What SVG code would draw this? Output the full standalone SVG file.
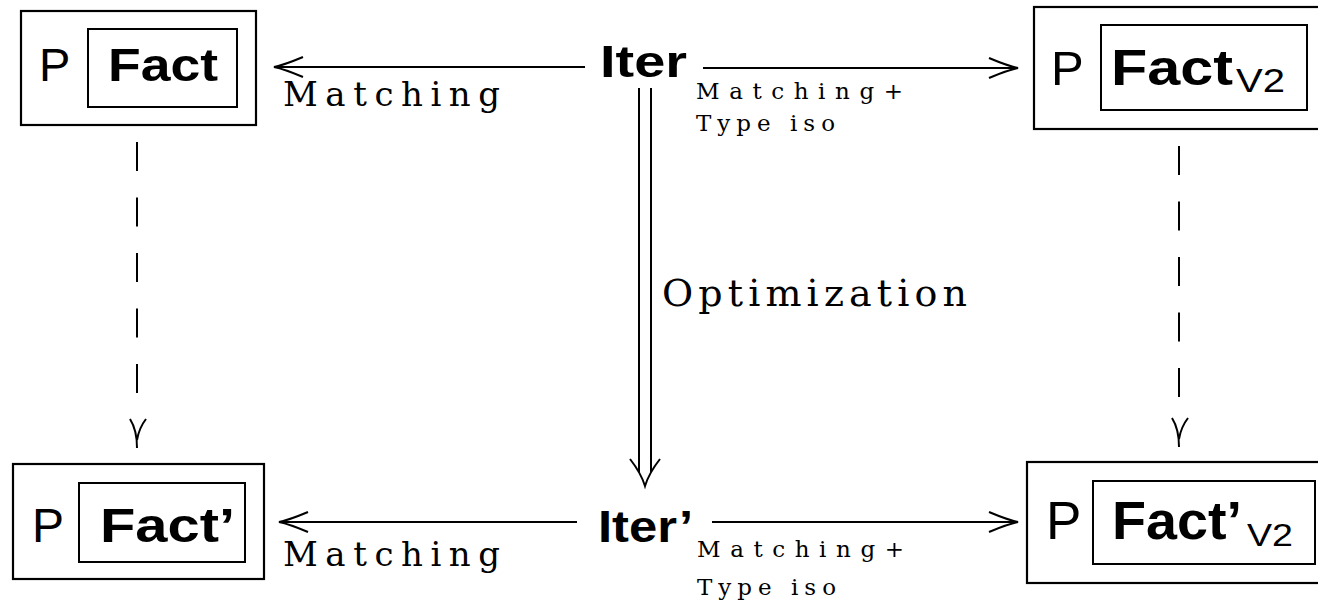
<svg xmlns="http://www.w3.org/2000/svg" width="1318" height="604" viewBox="0 0 1318 604">
<style>
.box{fill:none;stroke:#000;stroke-width:2.2}
.inner{fill:none;stroke:#000;stroke-width:2}
.p{font-family:"Liberation Sans",Arial,sans-serif;font-weight:400;fill:#000}
.b{font-family:"Liberation Sans",Arial,sans-serif;font-weight:700;fill:#000}
.sub{font-family:"Liberation Sans",Arial,sans-serif;font-weight:400;fill:#000}
.lbl{font-family:"DejaVu Serif","Liberation Serif",serif;fill:#000}
.edge{fill:none;stroke:#000;stroke-width:2}
.dash{fill:none;stroke:#000;stroke-width:2;stroke-dasharray:29 26.5}
</style>
<defs>
<marker id="arr" viewBox="-32 -12 34 24" markerWidth="34" markerHeight="24" refX="0" refY="0" orient="auto" markerUnits="userSpaceOnUse">
<path d="M-29,-10 Q-10,-2 0,0 Q-10,2 -29,10" fill="none" stroke="#000" stroke-width="2"/>
</marker>
</defs>
<rect width="1318" height="604" fill="#fff"/>

<g id="fact">
<rect class="box" x="21" y="11" width="235" height="114"/>
<rect class="inner" x="88" y="29" width="149" height="78"/>
<text class="p" x="39" y="81" font-size="47">P</text>
<text class="b" x="108" y="81" font-size="47" textLength="110" lengthAdjust="spacingAndGlyphs">Fact</text>
</g>

<g id="factv2">
<rect class="box" x="1034" y="7" width="290" height="122"/>
<rect class="inner" x="1101" y="25" width="206" height="85"/>
<text class="p" x="1051" y="85" font-size="49">P</text>
<text class="b" x="1111" y="85" font-size="50" textLength="122" lengthAdjust="spacingAndGlyphs">Fact</text>
<text class="sub" x="1236" y="92" font-size="34" textLength="49" lengthAdjust="spacingAndGlyphs">V2</text>
</g>

<g id="factp">
<rect class="box" x="13" y="464" width="251" height="115"/>
<rect class="inner" x="79" y="483" width="166" height="79"/>
<text class="p" x="32" y="542" font-size="48">P</text>
<text class="b" x="100" y="542" font-size="49" textLength="135" lengthAdjust="spacingAndGlyphs">Fact’</text>
</g>

<g id="factpv2">
<rect class="box" x="1027" y="462" width="300" height="121"/>
<rect class="inner" x="1093" y="481" width="222" height="83"/>
<text class="p" x="1046" y="539" font-size="53">P</text>
<text class="b" x="1112" y="539" font-size="54" textLength="130" lengthAdjust="spacingAndGlyphs">Fact’</text>
<text class="sub" x="1247" y="546" font-size="32" textLength="46" lengthAdjust="spacingAndGlyphs">V2</text>
</g>

<g id="iter">
<text class="b" x="600" y="77" font-size="44" textLength="87" lengthAdjust="spacingAndGlyphs">Iter</text>
</g>

<g id="iterp">
<text class="b" x="598" y="542" font-size="44" textLength="95" lengthAdjust="spacingAndGlyphs">Iter’</text>
</g>

<g id="connectors">
<line class="edge" x1="585" y1="67" x2="274" y2="67" marker-end="url(#arr)"/>
<line class="edge" x1="703" y1="68" x2="1018" y2="68" marker-end="url(#arr)"/>
<line class="edge" x1="577" y1="522" x2="279" y2="522" marker-end="url(#arr)"/>
<line class="edge" x1="712" y1="522" x2="1018" y2="522" marker-end="url(#arr)"/>
<line class="edge" x1="639" y1="88" x2="639" y2="472"/>
<line class="edge" x1="651" y1="88" x2="651" y2="472"/>
<path class="edge" d="M630,459 Q641,473 645,486 Q649,473 660,459"/>
<line class="dash" x1="137" y1="142" x2="137" y2="400"/>
<path class="edge" d="M130,419 Q137,430 137,448 M146,419 Q139,428 137,440"/>
<line class="dash" x1="1179" y1="146" x2="1179" y2="400"/>
<path class="edge" d="M1172,418 Q1179,429 1179,447 M1188,418 Q1181,427 1179,439"/>
<text class="lbl" x="283" y="106" font-size="34" textLength="217" lengthAdjust="spacing">Matching</text>
<text class="lbl" x="283" y="566" font-size="34" textLength="217" lengthAdjust="spacing">Matching</text>
<text class="lbl" x="696" y="99" font-size="23" textLength="207" lengthAdjust="spacing">Matching+</text>
<text class="lbl" x="696" y="131" font-size="23" textLength="139" lengthAdjust="spacing">Type iso</text>
<text class="lbl" x="697" y="557" font-size="23" textLength="207" lengthAdjust="spacing">Matching+</text>
<text class="lbl" x="697" y="595" font-size="23" textLength="139" lengthAdjust="spacing">Type iso</text>
<text class="lbl" x="662" y="306" font-size="38" textLength="305" lengthAdjust="spacing">Optimization</text>
</g>
</svg>
